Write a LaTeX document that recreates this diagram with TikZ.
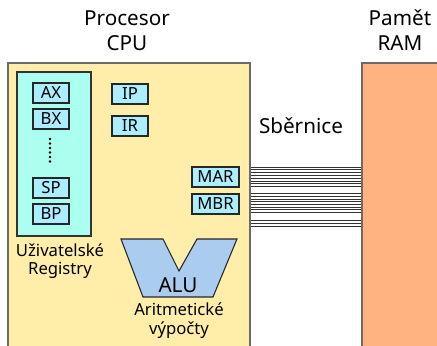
\documentclass[tikz,border=0pt]{standalone}
\usepackage{fontspec}
\setmainfont{Noto Sans}
\definecolor{cpuY}{HTML}{FFEEAA}
\definecolor{regG}{HTML}{AAFFEE}
\definecolor{regC}{HTML}{AAEEFF}
\definecolor{aluB}{HTML}{AACCEE}
\definecolor{ramO}{HTML}{FFB380}
\definecolor{edgeG}{HTML}{6A6A6A}
\tikzset{
  bigbox/.style={draw=edgeG, line width=1.1pt, inner sep=0pt, outer sep=0pt, anchor=north west},
  regbox/.style={draw=black!85, fill=regC, line width=0.8pt, inner sep=0pt, outer sep=0pt,
     minimum width=27pt, minimum height=15pt, font=\fontsize{12.5}{14}\selectfont},
  title/.style={font=\fontsize{15.5}{18}\selectfont, inner sep=0pt, align=center},
  label/.style={font=\fontsize{12.5}{15}\selectfont, inner sep=0pt, align=center},
  busline/.style={draw=black!80, line width=0.55pt},
}
\begin{document}
\begin{tikzpicture}[x=0.75pt,y=-0.75pt]
\useasboundingbox (0,0) rectangle (437,346);
\fill[white] (0,0) rectangle (437,346);
% boxes
\node[bigbox, fill=cpuY, minimum width=181.5pt, minimum height=222.75pt] (cpu) at (8,63) {};
\node[bigbox, fill=ramO, minimum width=66pt, minimum height=222.75pt] (ram) at (362,63) {};
% bus
\foreach \yy in {167,169.8,172.6,175.4,178.2,181,183.8,186.6,
                 193.5,196.2,198.9,201.6,204.3,207,209.7,212.4,
                 220,223,226}{
  \coordinate (bl) at (250,\yy);
  \coordinate (br) at (362,\yy);
  \draw[busline] (cpu.east |- bl) -- (ram.west |- br);
}
\draw[edgeG, line width=1.1pt] (cpu.north east) -- (cpu.south east);
\draw[edgeG, line width=1.1pt] (ram.north west) -- (ram.south west);
% user registers
\node[draw=black!80, fill=regG, line width=0.8pt, inner sep=0pt, outer sep=0pt,
      minimum width=55.5pt, minimum height=123pt, anchor=north west] (ureg) at (17,72) {};
\node[regbox] (ax) at (51,93) {AX};
\node[regbox] (bx) at (51,119) {BX};
\node[regbox] (sp) at (51,188) {SP};
\node[regbox] (bp) at (51,214) {BP};
\foreach \yy in {139,143.5,148,152.5,157,161.5}{
  \fill[black] (50,\yy) circle[radius=1pt];
}
\node[regbox] (ip) at (130,94) {IP};
\node[regbox] (ir) at (130,126) {IR};
\node[regbox, minimum width=35.25pt] (mar) at (215.5,177) {MAR};
\node[regbox, minimum width=35.25pt] (mbr) at (215.5,204) {MBR};
% ALU
\draw[fill=aluB, draw=black!85, line width=0.8pt, line join=miter]
  (121,239) -- (163,239) -- (179,271) -- (197,239) -- (237,239) -- (213,297) -- (143,297) -- cycle;
\node[title] (alu) at (178,285) {ALU};
% texts
\node[title] (procesor) at (127,18) {Procesor};
\node[title] (cpulbl) at (127,43) {CPU};
\node[title] (pamet) at (400,18) {Pamět};
\node[title] (ramlbl) at (400,43) {RAM};
\node[title] (sbernice) at (301,126) {Sběrnice};
\node[label] (uziv) at (60,250) {Uživatelské};
\node[label] (regs) at (60,270) {Registry};
\node[label] (arit) at (179,309) {Aritmetické};
\node[label] (vyp) at (179,330) {výpočty};
\end{tikzpicture}
\end{document}
